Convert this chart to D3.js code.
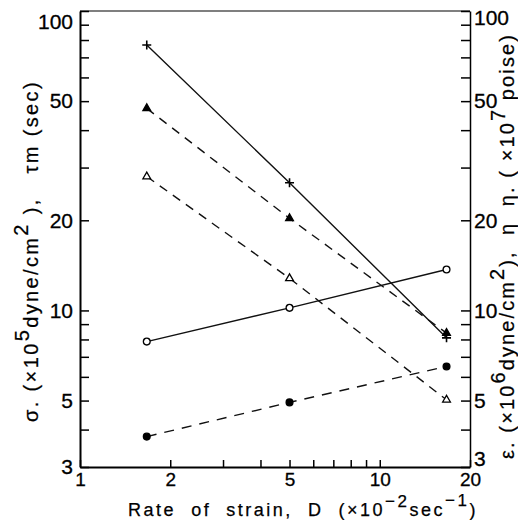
<!DOCTYPE html>
<html>
<head>
<meta charset="utf-8">
<script src="https://cdn.jsdelivr.net/npm/d3@7"></script>
<style>
body { margin: 0; background: #fff; }
svg { font-family: "Liberation Sans", Arial, sans-serif; }
</style>
</head>
<body>
<svg class="chart" width="518" height="520"></svg>
<script>
// data (log-log)
var rates = [1.67, 5, 16.7];
var tauM = [77, 26.7, 8.1];        // + , solid
var etaDot = [47.3, 20.3, 8.4];    // filled triangle, dashed
var eta = [28, 12.8, 5.03];        // open triangle, dashed
var sigma = [7.87, 10.2, 13.7];    // open circle, solid
var epsilon = [3.79, 4.93, 6.5];   // filled circle, dashed

var xTicks = [1, 2, 3, 4, 5, 6, 7, 8, 9, 10, 20];
var xLabels = [1, 2, 5, 10, 20];
var yTicks = [3, 4, 5, 6, 7, 8, 9, 10, 20, 30, 40, 50, 60, 70, 80, 90, 100];
var yLabels = [3, 5, 10, 20, 50, 100];

var svgx = 518, svgy = 520;
var margin = {top: 11, right: 48, bottom: 53, left: 80};
var w = svgx - margin.left - margin.right;
var h = svgy - margin.top - margin.bottom;

var svg = d3.select(".chart");
var g = svg.append("g")
    .attr("transform", "translate(" + margin.left + "," + margin.top + ")");

var xscale = d3.scaleLog().domain([1, 20]).range([0, w]);
var yscale = d3.scaleLog().domain([3, 100]).range([h, 0]);

function fmt(list) {
    return function(d) { return list.indexOf(d) >= 0 ? d : ""; };
}

// frame top
g.append("line")
    .attr("x1", 0).attr("x2", w)
    .attr("y1", 0).attr("y2", 0)
    .attr("stroke", "#555").attr("stroke-width", 1.5);

var xaxis = g.append("g")
    .attr("transform", "translate(0," + h + ")")
    .call(d3.axisBottom(xscale).tickValues(xTicks).tickSize(-7).tickSizeOuter(0)
        .tickPadding(6).tickFormat(fmt(xLabels)));

var yaxisL = g.append("g")
    .call(d3.axisLeft(yscale).tickValues(yTicks).tickSize(-9).tickSizeOuter(0)
        .tickPadding(7).tickFormat(fmt(yLabels)));

var yaxisR = g.append("g")
    .attr("transform", "translate(" + w + ",0)")
    .call(d3.axisRight(yscale).tickValues(yTicks).tickSize(-9).tickSizeOuter(0)
        .tickPadding(4).tickFormat(fmt(yLabels)));

[xaxis, yaxisL, yaxisR].forEach(function(a) {
    a.selectAll("text").attr("fill", "#000").attr("font-family", null)
        .attr("stroke", "#000").attr("stroke-width", 0.3);
    a.selectAll(".tick line").attr("stroke", "#000").attr("stroke-width", 1.5);
    a.select(".domain").attr("stroke", "#000").attr("stroke-width", 2);
});
xaxis.selectAll("text").attr("font-size", 19);
yaxisL.selectAll("text").attr("font-size", 21);
yaxisR.selectAll("text").attr("font-size", 21);
yaxisR.select(".domain").attr("stroke-width", 1.5);

// the "100" labels sit below the frame corner, right "3" sits above
yaxisL.selectAll(".tick").filter(function(d) { return d === 100; })
    .select("text").attr("dy", "0.85em");
yaxisR.selectAll(".tick").filter(function(d) { return d === 100; })
    .select("text").attr("dy", "0.65em");
yaxisR.selectAll(".tick").filter(function(d) { return d === 3; })
    .select("text").attr("dy", "-0.05em");

// series
var series = [
    {vals: tauM, dash: null, mark: "plus"},
    {vals: etaDot, dash: "9,7", mark: "tri"},
    {vals: eta, dash: "9,7", mark: "otri"},
    {vals: sigma, dash: null, mark: "ocirc"},
    {vals: epsilon, dash: "10,8", mark: "circ"}
];

var line = d3.line()
    .x(function(d) { return xscale(d[0]); })
    .y(function(d) { return yscale(d[1]); });

series.forEach(function(s) {
    var pts = rates.map(function(r, i) { return [r, s.vals[i]]; });
    g.append("path")
        .datum(pts)
        .attr("d", line)
        .attr("fill", "none")
        .attr("stroke", "#111")
        .attr("stroke-width", 1.4)
        .attr("stroke-dasharray", s.dash);

    var m = g.selectAll(null).data(pts).enter().append("g")
        .attr("transform", function(d) {
            return "translate(" + xscale(d[0]) + "," + yscale(d[1]) + ")";
        });
    if (s.mark === "plus") {
        m.append("path").attr("d", "M-4.5,0H4.5M0,-4.5V4.5")
            .attr("stroke", "#000").attr("stroke-width", 1.6);
    } else if (s.mark === "tri" || s.mark === "otri") {
        m.append("path").attr("d", d3.symbol(d3.symbolTriangle, 26))
            .attr("fill", s.mark === "tri" ? "#000" : "#fff")
            .attr("stroke", "#000").attr("stroke-width", 1.3);
    } else {
        m.append("circle").attr("r", 3.4)
            .attr("fill", s.mark === "circ" ? "#000" : "#fff")
            .attr("stroke", "#000").attr("stroke-width", 1.3);
    }
});

// stretch a text to a given length with letter spacing
function fit(t, target) {
    var n = t.text().length;
    var len = t.node().getComputedTextLength();
    t.attr("letter-spacing", (target - len) / n);
}

// x title
var xt = svg.append("text")
    .attr("x", 128).attr("y", 516)
    .attr("font-size", 18)
    .attr("stroke", "#000").attr("stroke-width", 0.25)
    .style("white-space", "pre");
xt.append("tspan").text("Rate  of  strain,  D  (×10");
xt.append("tspan").attr("dy", -9).attr("font-size", 17).text("−2");
xt.append("tspan").attr("dy", 9).text("sec");
xt.append("tspan").attr("dy", -10).attr("font-size", 17).text("−1");
xt.append("tspan").attr("dy", 10).text(")");
fit(xt, 350);

// left title
var lt = svg.append("text")
    .attr("transform", "translate(38,251) rotate(-90)")
    .attr("text-anchor", "middle")
    .attr("font-size", 20)
    .attr("stroke", "#000").attr("stroke-width", 0.25)
    .style("white-space", "pre");
lt.append("tspan").text("σ. (×10");
lt.append("tspan").attr("dy", -9).text("5");
lt.append("tspan").attr("dy", 9).text("dyne/cm");
lt.append("tspan").attr("dy", -10).text("2");
lt.append("tspan").attr("dy", 10).text(" ),   τm (sec)");
fit(lt, 342);

// right title
var rt = svg.append("text")
    .attr("transform", "translate(514,246) rotate(-90)")
    .attr("text-anchor", "middle")
    .attr("font-size", 20)
    .attr("stroke", "#000").attr("stroke-width", 0.25)
    .style("white-space", "pre");
rt.append("tspan").text("ε. (×10");
rt.append("tspan").attr("dy", -9).text("6");
rt.append("tspan").attr("dy", 9).text("dyne/cm");
rt.append("tspan").attr("dy", -10).text("2");
rt.append("tspan").attr("dy", 10).text("),  η  η. ( ×10");
rt.append("tspan").attr("dy", -9).text("7");
rt.append("tspan").attr("dy", 9).text(" poise)");
fit(rt, 426);
</script>
</body>
</html>
